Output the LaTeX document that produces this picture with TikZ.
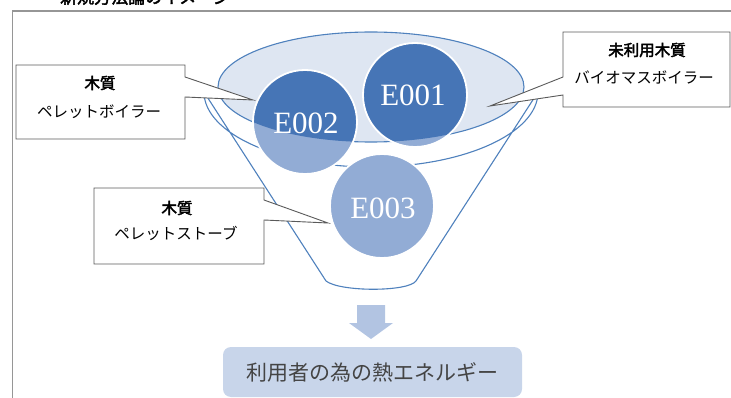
\documentclass[tikz,border=0pt]{standalone}
\usepackage{fontspec}
\setmainfont{Liberation Serif}
\newfontfamily\jp{Noto Sans CJK JP}
\newfontfamily\jpb[FakeBold=2.5]{Noto Sans CJK JP}
\definecolor{funnelline}{RGB}{79,129,189}
\definecolor{innerfill}{RGB}{222,230,242}
\definecolor{darkc}{RGB}{70,117,182}
\definecolor{lightc}{RGB}{146,172,213}
\definecolor{arrowc}{RGB}{178,196,226}
\definecolor{boxfill}{RGB}{200,213,234}
\definecolor{textgray}{RGB}{68,68,68}
\definecolor{framegray}{RGB}{150,150,150}
\definecolor{callgray}{RGB}{90,90,90}
\tikzset{
  calloutbox/.style={fill=white, draw=callgray, line width=0.9pt, line join=miter},
  circlabel/.style={text=white, font=\fontsize{31}{31}\selectfont, inner sep=0pt},
  calltext/.style={font=\jp\fontsize{15.5}{16}\selectfont, inner sep=0pt, text=black},
  calltextb/.style={font=\jpb\fontsize{15.5}{16}\selectfont, inner sep=0pt, text=black},
  ring/.style={draw=white, line width=1.8pt}
}
\begin{document}
\begin{tikzpicture}[x=1pt,y=-1pt]
\useasboundingbox (0,0) rectangle (731,398);
% title (cut off by the page edge)
\node[anchor=west, font=\jpb\fontsize{17}{17}\selectfont, inner sep=0pt] (title) at (43,-3) {・新規方法論のイメージ};
% frame
\draw[framegray, line width=1.4pt] (12.5,398) -- (12.5,11) -- (731,11);
% funnel body
\draw[funnelline, line width=1.1pt, fill=white]
  (204,92) arc[start angle=180, end angle=0, x radius=167, y radius=75]
  -- (416,281) .. controls (408,292) and (340,292) .. (326,281) -- cycle;
% inner ellipse
\draw[funnelline, line width=1.1pt, fill=innerfill] (371,87) ellipse[x radius=153, y radius=55];
% circles: light base
\fill[lightc] (415,95) circle[radius=52];
\fill[lightc] (305,122) circle[radius=52];
% darker part inside the inner ellipse
\begin{scope}
  \clip (371,87) ellipse[x radius=153, y radius=55];
  \fill[darkc] (415,95) circle[radius=52];
  \fill[darkc] (305,122) circle[radius=52];
\end{scope}
\draw[ring] (415,95) circle[radius=52];
\draw[ring] (305,122) circle[radius=52];
\fill[lightc] (382,206) circle[radius=52];
\draw[ring] (382,206) circle[radius=52];
\node[circlabel] (e1) at (413,95) {E001};
\node[circlabel] (e2) at (306,123) {E002};
\node[circlabel] (e3) at (383,208) {E003};
% callouts
\draw[calloutbox] (16,65) -- (185,65) -- (185,77) -- (253,100) -- (185,97) -- (185,139) -- (16,139) -- cycle;
\node[calltextb] (c1a) at (100,83) {木質};
\node[calltext] (c1b) at (99,112) {ペレットボイラー};
\draw[calloutbox] (563,32) -- (730,32) -- (730,107) -- (563,107) -- (563,95) -- (490,106) -- (563,77) -- cycle;
\node[calltextb] (c2a) at (647,50) {未利用木質};
\node[calltext] (c2b) at (644,78) {バイオマスボイラー};
\draw[calloutbox] (94,188) -- (264,188) -- (264,200) -- (328,223) -- (264,220) -- (264,264) -- (94,264) -- cycle;
\node[calltextb] (c3a) at (177,208) {木質};
\node[calltext] (c3b) at (176,233) {ペレットストーブ};
% down arrow
\fill[arrowc] (357,305) -- (385,305) -- (385,323) -- (393,323) -- (371,339) -- (349,323) -- (357,323) -- cycle;
% result box
\node[fill=boxfill, rounded corners=8pt, minimum width=299pt, minimum height=50pt, inner sep=0pt,
      font=\jp\fontsize{21}{21}\selectfont, text=textgray] (res) at (372.5,372) {利用者の為の熱エネルギー};
\end{tikzpicture}
\end{document}
